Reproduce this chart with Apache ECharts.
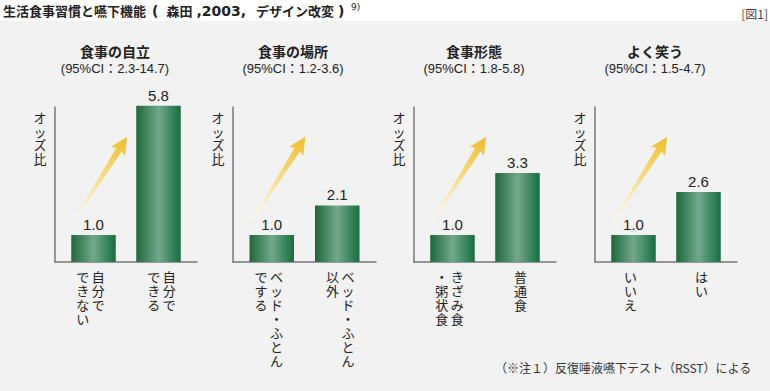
<!DOCTYPE html>
<html><head><meta charset="utf-8">
<script src="https://cdn.jsdelivr.net/npm/echarts@6/dist/echarts.min.js"></script>
<style>html,body{margin:0;padding:0;background:#f2f2f2}#c{width:770px;height:391px}</style>
</head><body><div id="c"></div>
<script>
// ---- data ----
const titleParts = ['生活食事習慣と嚥下機能', '(', '森田', ',2003,', 'デザイン改変', ')'];
const titleNote = '9)';
const figureTag = '[図1]';
const footnote = '（※注１）反復唾液嚥下テスト（RSST）による';
const yName = 'オッズ比';
const panelTitles = ['食事の自立', '食事の場所', '食事形態', 'よく笑う'];
const panelCI = ['(95%CI：2.3-14.7)', '(95%CI：1.2-3.6)', '(95%CI：1.8-5.8)', '(95%CI：1.5-4.7)'];
// category labels: vertical writing, columns separated by \n (first column = rightmost)
const cats1 = ['自分で\nできない', '自分で\nできる'];
const cats2 = ['ベッド・ふとん\nでする', 'ベッド・ふとん\n以外'];
const cats3 = ['きざみ食\n・粥状食', '普通食'];
const cats4 = ['いいえ', 'はい'];
const vals1 = [1.0, 5.8];
const vals2 = [1.0, 2.1];
const vals3 = [1.0, 3.3];
const vals4 = [1.0, 2.6];
const yMax = 5.75;

// ---- layout ----
const cats = [cats1, cats2, cats3, cats4];
const vals = [vals1, vals2, vals3, vals4];
const panelLeft = [55, 233, 414, 595];
const panelWidth = [142, 143, 142, 142];
const gridTop = 107, gridHeight = 155;
const LAT = '"Liberation Sans","Noto Sans CJK JP",sans-serif';
const JP = '"Noto Sans CJK JP",sans-serif';
const TXT = '#222';

function vertical(s) {
  const cols = s.split('\n').reverse().map(c => Array.from(c));
  const n = Math.max(...cols.map(c => c.length));
  const rows = [];
  for (let r = 0; r < n; r++) rows.push(cols.map(c => '{c|' + (c[r] || '　') + '}').join(''));
  return rows.join('\n');
}

const chart = echarts.init(document.getElementById('c'), null, {renderer: 'svg'});
const barFill = new echarts.graphic.LinearGradient(0, 0, 1, 0, [
  {offset: 0, color: '#1d683a'}, {offset: 0.5, color: '#72a98a'}, {offset: 1, color: '#166e41'}
]);

const grids = [], xAxes = [], yAxes = [], series = [];
for (let i = 0; i < 4; i++) {
  grids.push({left: panelLeft[i], width: panelWidth[i], top: gridTop, height: gridHeight});
  xAxes.push({
    type: 'category', gridIndex: i, data: cats[i],
    axisLine: {show: true, lineStyle: {color: '#777', width: 1.5}},
    axisTick: {show: false},
    axisLabel: {
      interval: 0, margin: 7, verticalAlign: 'top',
      formatter: v => vertical(v),
      rich: {c: {width: 15.5, align: 'center', fontSize: 13, lineHeight: 14, fontFamily: JP, color: TXT}}
    }
  });
  yAxes.push({
    type: 'value', gridIndex: i, min: 0, max: yMax,
    axisLine: {show: true, lineStyle: {color: '#777', width: 1.5}},
    axisTick: {show: false}, axisLabel: {show: false}, splitLine: {show: false}
  });
  // two slots per category: the second category's bar sits in the left slot and the first
  // category's bar in the right slot, so that both bars move slightly toward each other
  const base = {
    type: 'bar', xAxisIndex: i, yAxisIndex: i, barWidth: 44.5, barGap: '-86.5%', clip: false,
    itemStyle: {color: barFill},
    label: {show: true, position: 'top', distance: 3,
      formatter: p => (typeof p.value === 'number' ? p.value.toFixed(1) : ''),
      fontSize: 15, fontFamily: LAT, color: TXT},
    emphasis: {disabled: true}, animation: false
  };
  series.push(Object.assign({}, base, {data: ['-', vals[i][1]]}));
  series.push(Object.assign({}, base, {data: [vals[i][0], '-']}));
}

chart.setOption({
  backgroundColor: '#f2f2f2', animation: false,
  grid: grids, xAxis: xAxes, yAxis: yAxes, series: series
});

function txt(text, x, y, font, align, valign, extra) {
  return {type: 'text', silent: true, z: 10, style: Object.assign({
    text: text, x: x, y: y, font: font, fill: TXT,
    align: align, textAlign: align, verticalAlign: valign, textVerticalAlign: valign
  }, extra || {})};
}

const g = [];
g.push({type: 'rect', silent: true, z: 0, shape: {x: 0, y: 0, width: 770, height: 21}, style: {fill: '#ffffff'}});
const tj = {fontSize: 13, fontWeight: 'bold', fontFamily: JP, fill: TXT};
const tl = {fontSize: 14, fontWeight: 'bold', fontFamily: '"DejaVu Sans",sans-serif', fill: TXT};
g.push(txt('{j|' + titleParts[0] + '}{p1|' + titleParts[1] + '}{j|' + titleParts[2] + '}{p2|' +
  titleParts[3] + '}{j|' + titleParts[4] + '}{p3|' + titleParts[5] + '}',
  3, 10.5, 'bold 13px ' + JP, 'left', 'middle', {rich: {
    j: tj,
    p1: Object.assign({padding: [0, 8, 0, 6]}, tl),
    p2: Object.assign({padding: [0, 10, 0, 4]}, tl),
    p3: Object.assign({padding: [0, 0, 0, 4]}, tl)
  }}));
g.push(txt(titleNote, 351, 7, '9px "DejaVu Sans",sans-serif', 'left', 'middle'));
g.push(txt(figureTag, 768, 13.5, '12px ' + JP, 'right', 'middle', {fill: '#444'}));
g.push(txt(footnote, 495, 367, '12px ' + JP, 'left', 'middle', {fill: '#333'}));

for (let i = 0; i < 4; i++) {
  const cx = panelLeft[i] + 60;
  g.push(txt(panelTitles[i], cx, 51, 'bold 14px ' + JP, 'center', 'middle'));
  g.push(txt(panelCI[i], cx, 68.5, '13px ' + LAT, 'center', 'middle'));
  g.push(txt(Array.from(yName).join('\n'), panelLeft[i] - 15, 111, '13px ' + JP, 'center', 'top', {lineHeight: 13.5}));

  // decorative arrow, anchored on the first category's value
  const p = chart.convertToPixel({gridIndex: i}, [0, vals[i][0]]);
  const T = [p[0] - 17.5, p[1] - 13], P = [p[0] + 36.5, p[1] - 98];
  const dx = P[0] - T[0], dy = P[1] - T[1], L = Math.hypot(dx, dy);
  const u = [dx / L, dy / L], n = [-u[1], u[0]];
  const h = 15, hw = 8.5, sw = 3.2, tw = 0.6;
  const B = [P[0] - h * u[0], P[1] - h * u[1]];
  const pt = (o, a, b) => [o[0] + a * u[0] + b * n[0], o[1] + a * u[1] + b * n[1]];
  const pts = [pt(T, 0, tw), pt(B, 0, sw), pt(B, -2, hw), P.slice(), pt(B, -2, -hw), pt(B, 0, -sw), pt(T, 0, -tw)];
  g.push({type: 'polygon', silent: true, z: 5, shape: {points: pts},
    style: {fill: new echarts.graphic.LinearGradient(T[0], T[1], P[0], P[1], [
      {offset: 0, color: 'rgba(255,253,242,0.9)'}, {offset: 0.5, color: '#f6de8c'}, {offset: 1, color: '#efbd27'}
    ], true)}});
}
chart.setOption({graphic: g});
</script></body></html>
